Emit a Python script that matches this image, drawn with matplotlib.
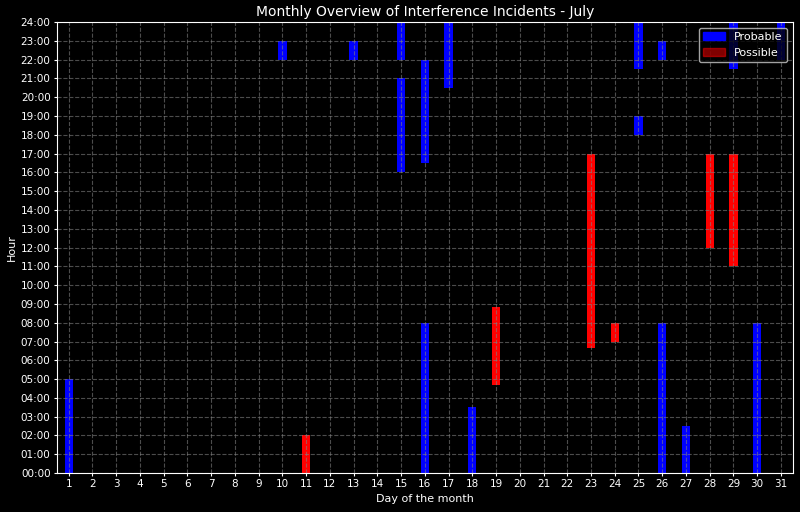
import matplotlib.pyplot as plt
from matplotlib.patches import Patch

plt.style.use("dark_background")

# incident intervals (day, start hour, end hour)
probable_days = [1, 10, 13, 15, 15, 16, 16, 17, 18, 25, 25, 26, 26, 27, 29, 30, 31]
probable_start = [0, 22, 22, 16, 22, 0, 16.5, 20.5, 0, 18, 21.5, 0, 22, 0, 21.5, 0, 22]
probable_end = [5, 23, 23, 21, 24, 8, 22, 24, 3.5, 19, 24, 8, 23, 2.5, 24, 8, 24]

possible_days = [11, 19, 23, 24, 28, 29]
possible_start = [0, 4.67, 6.67, 7, 12, 11]
possible_end = [2, 8.83, 17, 8, 17, 17]

days = list(range(1, 32))
hours = list(range(0, 25))

fig, ax = plt.subplots(figsize=(8, 5.12), dpi=100)
fig.subplots_adjust(left=0.071, right=0.991, top=0.957, bottom=0.076)

bar_w = 0.35
ax.bar(probable_days, [e - s for s, e in zip(probable_start, probable_end)],
       bottom=probable_start, width=bar_w, color="blue")
ax.bar(possible_days, [e - s for s, e in zip(possible_start, possible_end)],
       bottom=possible_start, width=bar_w, color="red")

ax.set_xlim(0.5, 31.5)
ax.set_ylim(0, 24)
ax.set_xticks(days)
ax.set_xticklabels([str(d) for d in days], fontsize=7.5)
ax.set_yticks(hours)
ax.set_yticklabels([f"{h:02d}:00" for h in hours], fontsize=7.5)
ax.tick_params(length=2.5, pad=2)

ax.grid(True, linestyle="--", color="gray", alpha=0.6, linewidth=0.8)

ax.set_title("Monthly Overview of Interference Incidents - July", fontsize=10, pad=4)
ax.set_xlabel("Day of the month", fontsize=8, labelpad=3)
ax.set_ylabel("Hour", fontsize=8, labelpad=3)

handles = [Patch(color="blue", label="Probable"),
           Patch(color="red", alpha=0.5, label="Possible")]
ax.legend(handles=handles, loc="upper right", fontsize=8)

fig.savefig("out.png", dpi=100, facecolor="black")
